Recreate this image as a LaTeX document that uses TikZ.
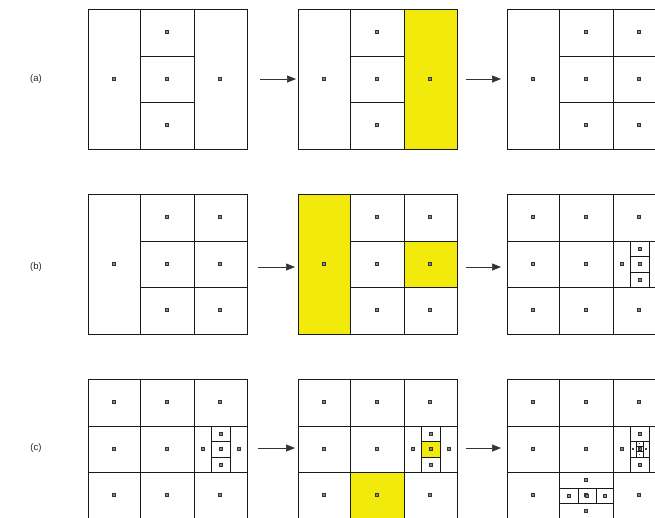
\documentclass[tikz,border=0pt]{standalone}
\usepackage{fontspec}
\setmainfont{Liberation Sans}
\usetikzlibrary{arrows.meta}
\definecolor{hl}{RGB}{242,234,10}
\tikzset{
  grid/.style={draw=black!90, line width=1.0pt},
  fine/.style={draw=black!90, line width=0.9pt},
  flow/.style={draw=black!80, line width=0.7pt, -{Triangle[length=9pt,width=7pt]}},
  lbl/.style={font=\fontsize{9.5}{11}\selectfont, text=black!85}
}
\newcommand\pdot[2]{\filldraw[draw=black!80, fill=black!45, line width=0.5pt] (#1-1.3,#2-1.3) rectangle (#1+1.3,#2+1.3);}
\newcommand\tdot[2]{\fill[black!75] (#1-0.7,#2-0.7) rectangle (#1+0.7,#2+0.7);}
% left column + 3 cells middle + right column
\newcommand\layoutA{%
  \draw[grid] (0,0) rectangle (159,140);
  \draw[grid] (52,0) -- (52,140) (106,0) -- (106,140) (52,47) -- (106,47) (52,93) -- (106,93);
  \pdot{26}{70}\pdot{79}{23}\pdot{79}{70}\pdot{79}{116}\pdot{132}{70}}
% left column + 2x3 cells
\newcommand\layoutB{%
  \draw[grid] (0,0) rectangle (159,140);
  \draw[grid] (52,0) -- (52,140) (106,0) -- (106,140) (52,47) -- (159,47) (52,93) -- (159,93);
  \pdot{26}{70}\pdot{79}{23}\pdot{79}{70}\pdot{79}{116}\pdot{132}{23}\pdot{132}{70}\pdot{132}{116}}
% 3x3 grid with subdivided right-middle cell
\newcommand\layoutC{%
  \draw[grid] (0,0) rectangle (159,140);
  \draw[grid] (52,0) -- (52,140) (106,0) -- (106,140) (0,47) -- (159,47) (0,93) -- (159,93);
  \draw[fine] (123,47) -- (123,93) (142,47) -- (142,93) (123,62) -- (142,62) (123,78) -- (142,78);
  \pdot{26}{23}\pdot{79}{23}\pdot{132}{23}
  \pdot{26}{70}\pdot{79}{70}
  \pdot{26}{116}\pdot{79}{116}\pdot{132}{116}
  \pdot{114.5}{70}\pdot{132.5}{54.5}\pdot{132.5}{70}\pdot{132.5}{85.5}\pdot{150.5}{70}}
\begin{document}
\begin{tikzpicture}[x=1pt,y=-1pt]
\useasboundingbox (0,0) rectangle (655,517);
\clip (0,0) rectangle (655,517);
\fill[white] (0,0) rectangle (655,517);

% labels
\node[lbl] (la) at (36,79) {(a)};
\node[lbl] (lb) at (36,267) {(b)};
\node[lbl] (lc) at (36,448) {(c)};

% ---------- row (a) ----------
\begin{scope}[shift={(88,9)}]
  \layoutA
\end{scope}
\begin{scope}[shift={(298,9)}]
  \fill[hl] (106,0) rectangle (159,140);
  \layoutA
\end{scope}
\begin{scope}[shift={(507,9)}]
  \layoutB
\end{scope}

% ---------- row (b) ----------
\begin{scope}[shift={(88,194)}]
  \layoutB
\end{scope}
\begin{scope}[shift={(298,194)}]
  \fill[hl] (0,0) rectangle (52,140);
  \fill[hl] (106,47) rectangle (159,93);
  \layoutB
\end{scope}
\begin{scope}[shift={(507,194)}]
  \layoutC
\end{scope}

% ---------- row (c) ----------
\begin{scope}[shift={(88,379)}]
  \layoutC
\end{scope}
\begin{scope}[shift={(298,379)}]
  \fill[hl] (123,62) rectangle (142,78);
  \fill[hl] (52,93) rectangle (106,140);
  \layoutC
\end{scope}
\begin{scope}[shift={(507,379)}]
  \layoutC
  % further split of the small middle cell
  \draw[fine, line width=0.6pt] (129.5,62) -- (129.5,78) (136,62) -- (136,78) (129.5,67.3) -- (136,67.3) (129.5,72.6) -- (136,72.6);
  \tdot{126}{70}\tdot{132.7}{64.6}\tdot{132.7}{70}\tdot{132.7}{75.3}\tdot{139}{70}
  % split of bottom-middle cell
  \draw[fine] (52,109) -- (106,109) (52,124) -- (106,124) (71,109) -- (71,124) (89,109) -- (89,124);
  \pdot{79}{101}\pdot{61.5}{116.5}\pdot{80}{116.5}\pdot{97.5}{116.5}\pdot{79}{132}
\end{scope}

% ---------- arrows ----------
\coordinate (a1) at (260,79);  \coordinate (a2) at (296,79);
\coordinate (a3) at (466,79);  \coordinate (a4) at (501,79);
\coordinate (b1) at (258,267); \coordinate (b2) at (295,267);
\coordinate (b3) at (466,267); \coordinate (b4) at (501,267);
\coordinate (c1) at (258,448); \coordinate (c2) at (295,448);
\coordinate (c3) at (466,448); \coordinate (c4) at (501,448);
\draw[flow] (a1) -- (a2);
\draw[flow] (a3) -- (a4);
\draw[flow] (b1) -- (b2);
\draw[flow] (b3) -- (b4);
\draw[flow] (c1) -- (c2);
\draw[flow] (c3) -- (c4);
\end{tikzpicture}
\end{document}
